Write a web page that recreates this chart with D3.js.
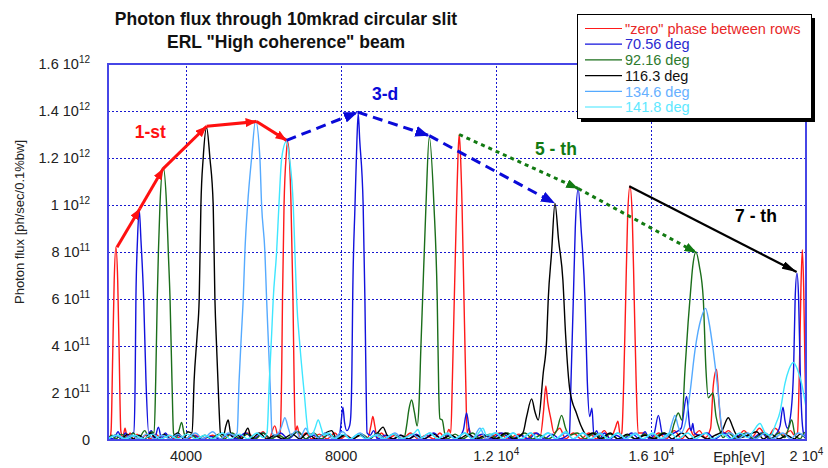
<!DOCTYPE html>
<html><head><meta charset="utf-8">
<script src="https://cdn.jsdelivr.net/npm/d3@7"></script>
<style>
html,body{margin:0;padding:0;background:#fff;}
svg{display:block;font-family:"Liberation Sans",Arial,Helvetica,sans-serif;}
</style></head><body>
<svg id="chart" width="828" height="468"></svg>
<script>
// ---------- DATA (energy in eV, flux in units of 1e11 ph/sec/0.1%bw) ----------
const titleLines = ["Photon flux through 10mkrad circular slit", "ERL \"High coherence\" beam"];
const seriesNames = ["\"zero\" phase between rows", "70.56 deg", "92.16 deg", "116.3 deg", "134.6 deg", "141.8 deg"];
const seriesColors = ["#ff1a1a", "#1212dd", "#1b6e1b", "#000000", "#55aaff", "#3fe6ff"];
const legendTextColors = ["#e82828", "#2a2ad0", "#2e7a2e", "#111111", "#66b0ff", "#5ee8ff"];

const xTicks = [4000, 8000, 12000, 16000, 20000];
const xTickMain = ["4000", "8000", "1.2 10", "1.6 10", "2 10"];
const xTickExp = ["", "", "4", "4", "4"];
const yTicks = [0, 2e11, 4e11, 6e11, 8e11, 1e12, 1.2e12, 1.4e12, 1.6e12];
const yTickMain = ["0", "2 10", "4 10", "6 10", "8 10", "1 10", "1.2 10", "1.4 10", "1.6 10"];
const yTickExp = ["", "11", "11", "11", "11", "12", "12", "12", "12"];

const zeroPhase = [[2000,0.2],[2050,0.1],[2080,0.4],[2120,3.5],[2160,6.8],[2204,8.2],[2250,6.8],[2290,3.5],[2330,0.4],[2380,0.1],[2440,0.5],[2500,0.05],[2570,0.3],[2650,0.05],[2750,0.25],[2850,0.05],[2960,0.2],[3080,0.05],[3230,0.25],[3380,0.05],[3560,0.2],[3720,0.05],[3900,0.15],[4050,0.05],[4250,0.2],[4450,0.05],[4700,0.2],[4900,0.05],[5150,0.25],[5350,0.05],[5600,0.3],[5800,0.05],[6000,0.35],[6150,0.05],[6300,0.6],[6400,0.1],[6440,0.3],[6480,3.0],[6500,6.0],[6540,10.0],[6600,12.2],[6630,12.7],[6670,12.2],[6720,10.0],[6770,6.0],[6800,2.5],[6830,0.3],[6880,0.6],[6950,0.05],[7100,0.3],[7250,0.05],[7450,0.25],[7650,0.05],[7850,0.3],[8000,0.05],[8150,0.2],[8300,0.05],[8500,0.2],[8700,0.1],[8780,0.6],[8830,1.0],[8880,0.6],[8940,0.1],[9050,0.3],[9200,0.05],[9400,0.2],[9600,0.05],[9800,0.3],[10000,0.05],[10200,0.2],[10400,0.05],[10560,0.3],[10700,0.05],[10790,0.45],[10840,0.3],[10880,2.5],[10930,6.0],[10990,10.0],[11030,12.3],[11057,13.0],[11085,12.3],[11130,10.0],[11180,6.0],[11225,2.5],[11260,0.3],[11310,0.5],[11370,0.05],[11550,0.2],[11800,0.05],[12100,0.3],[12300,0.05],[12600,0.25],[12800,0.05],[13000,0.3],[13150,0.2],[13230,1.2],[13290,2.3],[13340,1.6],[13420,0.9],[13500,0.3],[13650,0.5],[13800,0.05],[14000,0.3],[14200,0.05],[14400,0.3],[14600,0.05],[14800,0.4],[14950,0.05],[15080,0.5],[15150,0.8],[15210,0.2],[15250,0.3],[15300,2.5],[15350,6.0],[15400,9.5],[15460,10.8],[15520,9.5],[15570,6.0],[15620,2.5],[15670,0.3],[15800,0.3],[16000,0.05],[16200,0.3],[16400,0.05],[16600,0.4],[16800,0.05],[17000,0.5],[17100,0.2],[17250,0.4],[17400,0.1],[17540,0.5],[17608,2.3],[17694,3.0],[17760,1.5],[17824,0.5],[17900,0.3],[18000,0.4],[18200,0.05],[18400,0.4],[18600,0.1],[18800,0.5],[19000,0.1],[19200,0.5],[19400,0.2],[19600,0.4],[19700,0.2],[19780,0.3],[19830,3.0],[19870,6.5],[19905,8.1],[19940,6.5],[19975,3.0],[20000,1.0]];

const deg70 = [[2000,0.1],[2150,0.05],[2260,0.35],[2350,0.05],[2450,0.3],[2550,0.05],[2640,0.3],[2670,0.3],[2700,2.5],[2720,6.0],[2760,8.5],[2805,9.8],[2850,8.5],[2920,6.0],[2980,2.5],[3050,0.3],[3120,0.4],[3200,0.05],[3300,0.55],[3380,0.05],[3480,0.3],[3600,0.05],[3800,0.2],[4000,0.05],[4200,0.2],[4400,0.05],[4650,0.15],[4900,0.05],[5100,0.25],[5300,0.05],[5550,0.3],[5750,0.05],[6000,0.3],[6200,0.05],[6450,0.3],[6650,0.05],[6900,0.35],[7100,0.05],[7300,0.2],[7500,0.05],[7700,0.25],[7900,0.05],[7980,0.3],[8020,0.9],[8057,1.4],[8100,0.75],[8160,0.4],[8230,0.6],[8260,1.0],[8290,3.0],[8310,6.0],[8370,10.0],[8420,12.8],[8453,13.9],[8490,12.8],[8580,10.0],[8625,6.0],[8650,3.0],[8680,0.3],[8760,0.2],[8850,0.4],[8950,0.05],[9150,0.2],[9350,0.05],[9550,0.2],[9750,0.05],[9950,0.25],[10150,0.05],[10400,0.3],[10600,0.05],[10800,0.2],[11000,0.05],[11160,0.4],[11248,1.15],[11320,0.4],[11400,0.05],[11650,0.25],[11900,0.05],[12150,0.3],[12400,0.05],[12650,0.2],[12850,0.05],[13050,0.3],[13250,0.05],[13450,0.25],[13650,0.05],[13850,0.2],[13900,0.3],[13940,2.5],[14000,6.0],[14050,9.0],[14126,10.7],[14200,9.0],[14300,6.0],[14360,2.5],[14420,1.0],[14480,1.35],[14530,0.2],[14600,0.4],[14680,0.05],[14800,0.3],[14950,0.05],[15100,0.2],[15300,0.05],[15500,0.3],[15700,0.05],[15850,0.35],[15950,0.05],[16080,0.25],[16193,1.05],[16300,0.25],[16450,0.2],[16600,0.3],[16780,0.5],[16921,1.85],[17000,0.6],[17040,0.4],[17080,0.7],[17120,0.3],[17250,0.2],[17450,0.3],[17650,0.05],[17900,0.3],[18100,0.05],[18350,0.25],[18600,0.05],[18850,0.3],[19050,0.05],[19250,0.3],[19330,0.6],[19406,1.4],[19460,0.8],[19520,0.5],[19600,1.0],[19680,3.0],[19720,6.0],[19767,7.1],[19810,6.0],[19850,3.0],[19900,0.8],[19950,0.2],[20000,0.1]];

const deg92 = [[2000,0.05],[2100,0.2],[2200,0.05],[2350,0.25],[2500,0.05],[2650,0.3],[2780,0.05],[2950,0.4],[3050,0.1],[3120,0.35],[3190,0.3],[3230,2.5],[3270,6.0],[3300,8.0],[3340,10.0],[3424,11.6],[3510,10.0],[3555,8.0],[3600,6.0],[3650,2.5],[3690,0.3],[3760,0.1],[3830,0.4],[3898,0.75],[3960,0.3],[4030,0.05],[4150,0.25],[4300,0.05],[4500,0.2],[4650,0.05],[4850,0.25],[5000,0.05],[5200,0.3],[5400,0.05],[5600,0.25],[5800,0.05],[6000,0.3],[6200,0.05],[6400,0.2],[6600,0.05],[6900,0.35],[7100,0.05],[7300,0.3],[7500,0.05],[7700,0.25],[7900,0.05],[8100,0.2],[8300,0.05],[8550,0.25],[8750,0.05],[8950,0.3],[9150,0.05],[9350,0.25],[9550,0.05],[9640,0.1],[9700,0.6],[9760,1.3],[9830,1.7],[9900,1.2],[9974,0.6],[10020,1.5],[10070,4.0],[10113,6.0],[10200,10.0],[10284,12.9],[10405,10.0],[10490,6.0],[10530,2.0],[10560,0.9],[10620,0.85],[10680,0.3],[10750,0.05],[10950,0.25],[11150,0.05],[11400,0.3],[11600,0.05],[11850,0.25],[12050,0.05],[12300,0.3],[12500,0.05],[12750,0.3],[12950,0.05],[13150,0.2],[13350,0.05],[13570,0.4],[13698,1.05],[13800,0.5],[13900,0.2],[14100,0.3],[14300,0.05],[14550,0.3],[14750,0.05],[14950,0.25],[15150,0.05],[15400,0.2],[15600,0.05],[15850,0.25],[16050,0.05],[16300,0.3],[16500,0.2],[16600,0.7],[16706,1.15],[16800,0.85],[16880,3.0],[16960,5.0],[17008,6.0],[17080,7.4],[17162,8.0],[17250,7.4],[17351,6.0],[17420,3.0],[17480,1.8],[17540,1.9],[17600,2.0],[17680,1.0],[17780,0.4],[17860,0.1],[18000,0.3],[18200,0.05],[18450,0.3],[18650,0.05],[18900,0.3],[19100,0.05],[19300,0.3],[19450,0.1],[19550,0.5],[19631,0.85],[19720,0.2],[19850,0.05],[19950,0.3],[20000,0.35]];

const deg116 = [[2000,0.05],[2200,0.2],[2350,0.05],[2500,0.25],[2650,0.05],[2800,0.2],[2950,0.05],[3100,0.3],[3250,0.05],[3450,0.25],[3600,0.05],[3800,0.3],[3950,0.05],[4060,0.35],[4170,0.3],[4220,2.5],[4300,4.5],[4352,6.0],[4396,10.0],[4455,12.0],[4543,13.3],[4628,12.0],[4713,10.0],[4757,6.0],[4800,4.0],[4860,1.5],[4900,0.3],[4980,0.2],[5040,0.6],[5100,0.85],[5160,0.3],[5250,0.1],[5350,0.2],[5450,0.05],[5608,0.5],[5700,0.05],[5900,0.3],[6100,0.05],[6300,0.2],[6500,0.05],[6750,0.25],[6950,0.05],[7150,0.3],[7350,0.05],[7550,0.25],[7767,0.4],[7900,0.05],[8100,0.2],[8300,0.05],[8500,0.2],[8700,0.05],[8950,0.3],[9093,0.55],[9200,0.2],[9350,0.05],[9550,0.2],[9750,0.05],[9950,0.2],[10150,0.05],[10400,0.25],[10600,0.05],[10850,0.2],[11050,0.05],[11300,0.25],[11500,0.05],[11750,0.2],[12000,0.05],[12250,0.3],[12450,0.05],[12700,0.3],[12796,1.0],[12925,1.75],[13010,1.2],[13095,0.85],[13224,2.85],[13311,4.25],[13353,6.0],[13440,8.0],[13526,10.07],[13620,8.5],[13731,6.8],[13800,4.5],[13912,2.1],[14083,1.13],[14212,0.55],[14350,0.2],[14500,0.3],[14700,0.05],[14950,0.3],[15150,0.05],[15400,0.25],[15600,0.05],[15850,0.2],[16100,0.05],[16350,0.3],[16550,0.05],[16800,0.3],[17000,0.05],[17250,0.2],[17450,0.05],[17650,0.2],[17820,0.35],[17995,0.95],[18100,0.6],[18160,0.35],[18300,0.1],[18500,0.2],[18728,0.35],[18900,0.05],[19100,0.25],[19300,0.05],[19500,0.2],[19700,0.05],[19850,0.25],[20000,0.05]];

const deg134 = [[2000,0.05],[2200,0.2],[2400,0.05],[2600,0.2],[2800,0.05],[3000,0.25],[3200,0.05],[3400,0.2],[3600,0.05],[3800,0.25],[4000,0.05],[4250,0.3],[4450,0.05],[4700,0.35],[4900,0.05],[5100,0.3],[5250,0.2],[5330,0.3],[5380,2.5],[5440,4.5],[5487,6.0],[5530,8.0],[5600,10.0],[5703,12.0],[5806,13.6],[5917,12.0],[5961,10.0],[6046,8.0],[6090,6.0],[6140,4.0],[6190,2.0],[6230,0.3],[6300,0.2],[6400,0.3],[6480,0.6],[6562,0.95],[6650,0.5],[6720,0.2],[6850,0.4],[6950,0.1],[7100,0.5],[7200,0.2],[7300,0.3],[7400,0.1],[7600,0.3],[7800,0.05],[8050,0.35],[8250,0.05],[8500,0.3],[8700,0.05],[8950,0.25],[9150,0.05],[9400,0.3],[9600,0.05],[9850,0.25],[10050,0.05],[10300,0.3],[10500,0.05],[10750,0.25],[10950,0.05],[11200,0.3],[11400,0.05],[11591,0.5],[11750,0.05],[12000,0.3],[12200,0.05],[12450,0.3],[12650,0.05],[12900,0.3],[13100,0.05],[13350,0.3],[13550,0.05],[13800,0.3],[14000,0.05],[14250,0.3],[14450,0.05],[14700,0.3],[14900,0.05],[15150,0.3],[15350,0.05],[15600,0.3],[15800,0.05],[16050,0.25],[16300,0.05],[16450,0.2],[16540,0.7],[16620,1.05],[16700,0.6],[16780,0.3],[16900,0.8],[17008,2.0],[17136,3.8],[17300,5.2],[17412,5.6],[17500,5.0],[17608,3.8],[17737,2.0],[17820,0.6],[17880,0.2],[18050,0.3],[18250,0.05],[18500,0.3],[18700,0.05],[18950,0.3],[19150,0.05],[19400,0.3],[19600,0.05],[19800,0.3],[20000,0.1]];

const deg141 = [[2000,0.05],[2250,0.2],[2450,0.05],[2700,0.2],[2900,0.05],[3150,0.25],[3350,0.05],[3600,0.2],[3800,0.05],[4050,0.25],[4250,0.05],[4500,0.2],[4700,0.05],[4950,0.3],[5150,0.05],[5400,0.25],[5600,0.05],[5850,0.3],[6000,0.1],[6100,0.3],[6160,2.5],[6220,4.5],[6261,6.0],[6348,8.0],[6408,10.0],[6480,12.0],[6600,12.7],[6680,12.0],[6777,10.0],[6820,8.0],[6864,6.0],[6950,4.0],[7060,2.0],[7170,0.3],[7250,0.2],[7340,0.5],[7421,0.85],[7500,0.5],[7560,0.2],[7700,0.3],[7850,0.05],[8050,0.25],[8250,0.05],[8450,0.25],[8650,0.05],[8900,0.2],[9100,0.05],[9350,0.25],[9550,0.05],[9800,0.2],[9900,0.3],[9994,0.45],[10080,0.1],[10300,0.3],[10500,0.05],[10750,0.3],[10950,0.05],[11200,0.3],[11400,0.05],[11560,0.3],[11668,0.5],[11760,0.2],[12000,0.3],[12200,0.05],[12450,0.3],[12650,0.05],[12900,0.3],[13100,0.05],[13350,0.3],[13550,0.05],[13800,0.35],[14000,0.05],[14250,0.3],[14450,0.05],[14700,0.25],[14900,0.05],[15150,0.3],[15350,0.05],[15600,0.25],[15800,0.05],[16050,0.3],[16250,0.05],[16500,0.3],[16700,0.05],[16950,0.3],[17150,0.05],[17400,0.3],[17600,0.05],[17850,0.25],[18050,0.05],[18300,0.3],[18500,0.1],[18650,0.4],[18812,0.7],[18950,0.3],[19100,0.2],[19200,0.6],[19330,1.2],[19457,2.4],[19560,3.0],[19672,3.3],[19780,3.0],[19887,2.4],[20000,1.4]];

// harmonic envelopes (peak tops joined by arrows)
const firstHarmonic = [[2232,8.2],[2823,9.85],[3424,11.55],[4543,13.35],[5832,13.55],[6606,12.75]];
const thirdHarmonic = [[6606,12.75],[8440,13.95],[10284,12.95],[13526,10.07]];
const fifthHarmonic = [[11057,13.0],[14126,10.7],[17180,7.97]];
const seventhHarmonic = [[15442,10.8],[19759,7.15]];
const harmonicLabels = ["1-st", "3-d", "5 - th", "7 - th"];
const harmonicLabelAt = [[2690,12.85],[8808,14.45],[13012,12.12],[18170,9.28]];

// ---------- DRAWING ----------
const svg = d3.select("#chart");
const x = d3.scaleLinear().domain([2000, 20000]).range([108, 806]);
const y = d3.scaleLinear().domain([0, 1.6e12]).range([440, 64]);
const U = 1e11;

svg.append("rect").attr("width", 828).attr("height", 468).attr("fill", "#fff");

// title
svg.append("g").selectAll("text").data(titleLines).join("text")
  .attr("x", 286).attr("y", (d, i) => 25 + i * 23)
  .attr("text-anchor", "middle").attr("font-size", 17.5).attr("font-weight", "bold")
  .attr("fill", "#111").text(d => d);

// gridlines
const grid = svg.append("g").attr("stroke", "#1818d0").attr("stroke-width", 1).attr("stroke-dasharray", "2,2");
grid.selectAll("line.h").data(yTicks.slice(1, -1)).join("line").attr("class", "h")
  .attr("x1", x.range()[0]).attr("x2", x.range()[1]).attr("y1", d => Math.round(y(d)) + 0.5).attr("y2", d => Math.round(y(d)) + 0.5);
grid.selectAll("line.v").data(xTicks.slice(0, -1)).join("line").attr("class", "v")
  .attr("y1", y.range()[0]).attr("y2", y.range()[1]).attr("x1", d => Math.round(x(d)) + 0.5).attr("x2", d => Math.round(x(d)) + 0.5);

// axes (labels built from tick arrays)
const gx = svg.append("g").attr("transform", "translate(0,440)")
  .call(d3.axisBottom(x).tickValues(xTicks).tickSize(0).tickPadding(11).tickFormat(""));
gx.select(".domain").remove();
gx.selectAll(".tick text").attr("font-size", 14.5).attr("fill", "#222").attr("font-family", null)
  .each(function (d, i) {
    const t = d3.select(this);
    t.append("tspan").text(xTickMain[i]);
    if (xTickExp[i]) t.append("tspan").attr("dy", -6).attr("font-size", 10).text(xTickExp[i]);
  });
const gy = svg.append("g").attr("transform", "translate(108,0)")
  .call(d3.axisLeft(y).tickValues(yTicks).tickSize(0).tickPadding(18).tickFormat(""));
gy.select(".domain").remove();
gy.selectAll(".tick text").attr("font-size", 14.5).attr("fill", "#222").attr("font-family", null)
  .each(function (d, i) {
    const t = d3.select(this);
    t.append("tspan").text(yTickMain[i]);
    if (yTickExp[i]) t.append("tspan").attr("dy", -6).attr("font-size", 10).text(yTickExp[i]);
  });

svg.append("text").attr("x", 739).attr("y", 462).attr("text-anchor", "middle")
  .attr("font-size", 14.5).attr("fill", "#222").text("Eph[eV]");
svg.append("text").attr("transform", "translate(24,222) rotate(-90)").attr("text-anchor", "middle")
  .attr("font-size", 13).attr("fill", "#222").text("Photon flux [ph/sec/0.1%bw]");

// clip
svg.append("defs").append("clipPath").attr("id", "plotclip").append("rect")
  .attr("x", 108).attr("y", 64).attr("width", 698).attr("height", 376);

// series
const allSeries = [zeroPhase, deg70, deg92, deg116, deg134, deg141];
const line = d3.line().x(d => x(d[0])).y(d => y(d[1] * U)).curve(d3.curveMonotoneX);
svg.append("g").attr("clip-path", "url(#plotclip)").selectAll("path").data(allSeries).join("path")
  .attr("d", line).attr("fill", "none").attr("stroke", (d, i) => seriesColors[i])
  .attr("stroke-width", 1.4).attr("stroke-linejoin", "round");

// arrow markers
const defs = svg.select("defs");
const markerSpecs = [
  {id: "arRed", color: "#ff1010", len: 11, wid: 9},
  {id: "arBlue", color: "#0a0ad8", len: 14, wid: 11},
  {id: "arGreen", color: "#127a12", len: 12, wid: 9},
  {id: "arBlack", color: "#000", len: 15, wid: 8}
];
markerSpecs.forEach(m => {
  defs.append("marker").attr("id", m.id).attr("markerUnits", "userSpaceOnUse")
    .attr("markerWidth", m.len).attr("markerHeight", m.wid)
    .attr("refX", m.len).attr("refY", m.wid / 2).attr("orient", "auto")
    .append("path").attr("d", `M0,0L${m.len},${m.wid / 2}L0,${m.wid}Z`).attr("fill", m.color);
});

const harmonics = [
  {pts: firstHarmonic, color: "#ff1010", width: 3, dash: null, marker: "arRed"},
  {pts: thirdHarmonic, color: "#0a0ad8", width: 3, dash: "10,6", marker: "arBlue"},
  {pts: fifthHarmonic, color: "#127a12", width: 3, dash: "4,4", marker: "arGreen"},
  {pts: seventhHarmonic, color: "#000", width: 2.2, dash: null, marker: "arBlack"}
];
const ga = svg.append("g");
harmonics.forEach(h => {
  const segs = d3.pairs(h.pts);
  ga.append("g").selectAll("line").data(segs).join("line")
    .attr("x1", d => x(d[0][0])).attr("y1", d => y(d[0][1] * U))
    .attr("x2", d => x(d[1][0])).attr("y2", d => y(d[1][1] * U))
    .attr("stroke", h.color).attr("stroke-width", h.width)
    .attr("stroke-dasharray", h.dash).attr("marker-end", `url(#${h.marker})`);
});
svg.append("g").selectAll("text").data(harmonicLabels).join("text")
  .attr("x", (d, i) => x(harmonicLabelAt[i][0])).attr("y", (d, i) => y(harmonicLabelAt[i][1] * U))
  .attr("font-size", 17.5).attr("font-weight", "bold")
  .attr("fill", (d, i) => ["#ff1010", "#0a0ad8", "#127a12", "#000"][i]).text(d => d);

// frame
svg.append("rect").attr("x", 108).attr("y", 64).attr("width", 698).attr("height", 376)
  .attr("fill", "none").attr("stroke", "#4646e6").attr("stroke-width", 2);

// legend
const lg = svg.append("g").attr("transform", "translate(577,14)");
lg.append("rect").attr("x", 4).attr("y", 4).attr("width", 234).attr("height", 104).attr("fill", "#000");
lg.append("rect").attr("x", 0.5).attr("y", 0.5).attr("width", 234).attr("height", 104)
  .attr("fill", "#fff").attr("stroke", "#000").attr("stroke-width", 1);
const rows = lg.selectAll("g.row").data(seriesNames).join("g").attr("class", "row")
  .attr("transform", (d, i) => `translate(0,${14.5 + i * 15.7})`);
rows.append("line").attr("x1", 8).attr("x2", 45).attr("stroke", (d, i) => seriesColors[i]).attr("stroke-width", 1.2);
rows.append("text").attr("x", 48).attr("dy", "0.36em").attr("font-size", 14.5)
  .attr("fill", (d, i) => legendTextColors[i]).text(d => d);
</script>
</body></html>
